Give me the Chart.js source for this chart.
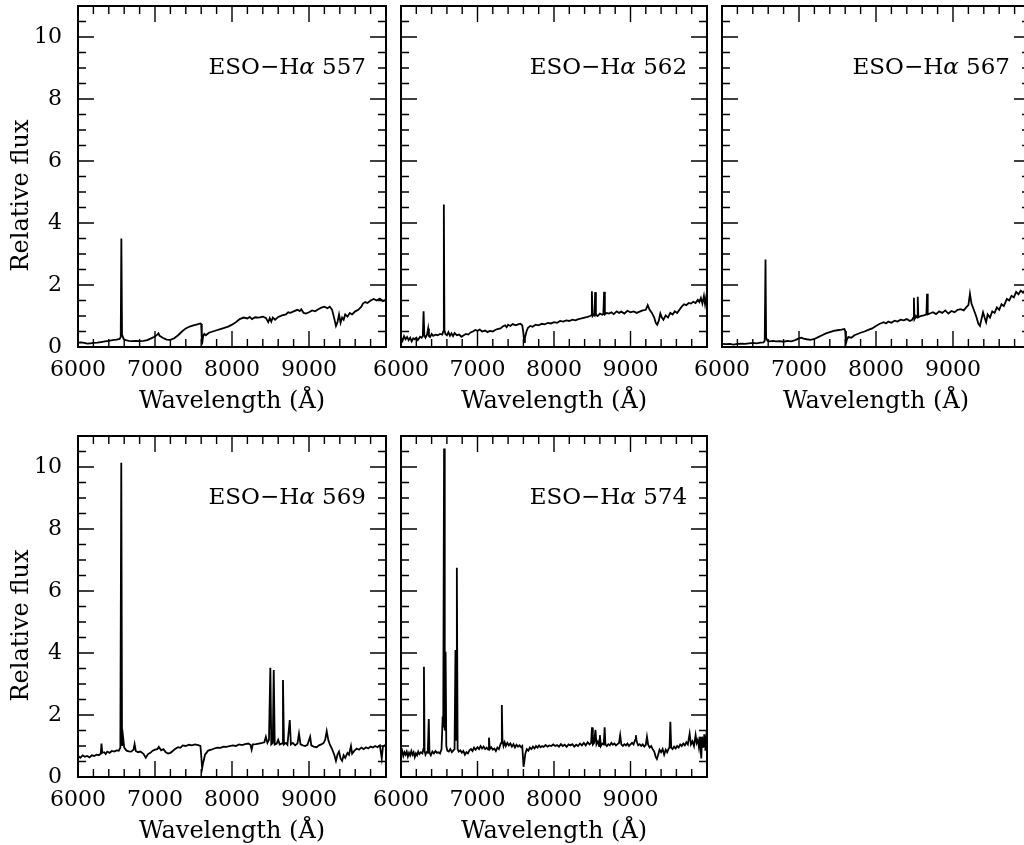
<!DOCTYPE html>
<html>
<head>
<meta charset="utf-8">
<script src="https://cdn.jsdelivr.net/npm/chart.js@4.4.0/dist/chart.umd.min.js"></script>
<style>
html, body { margin: 0; padding: 0; background: #fff; overflow: hidden; width: 1024px; height: 845px; }
canvas { position: absolute; left: 0; top: 0; }
</style>
</head>
<body>
<canvas id="c557" width="1040" height="845"></canvas>
<canvas id="c562" width="1040" height="845"></canvas>
<canvas id="c567" width="1040" height="845"></canvas>
<canvas id="c569" width="1040" height="845"></canvas>
<canvas id="c574" width="1040" height="845"></canvas>
<script>
// spectra (wavelength in Angstrom, relative flux)
const wave557 = [6000,6040,6080,6120,6160,6200,6250,6300,6350,6400,6450,6500,6540,6555,6563,6572,6590,6620,6660,6700,6750,6800,6850,6900,6950,7000,7030,7045,7060,7100,7150,7200,7250,7300,7350,7400,7450,7500,7550,7590,7600,7608,7615,7625,7640,7660,7700,7750,7800,7850,7900,7950,8000,8050,8100,8150,8200,8230,8260,8300,8350,8400,8440,8470,8490,8510,8530,8560,8600,8650,8700,8730,8760,8800,8850,8880,8900,8930,8960,9000,9040,9080,9120,9160,9200,9240,9270,9300,9330,9350,9370,9390,9410,9430,9450,9470,9500,9530,9560,9600,9640,9680,9700,9730,9760,9800,9840,9880,9920,9960,10000];
const flux557 = [0.14,0.15,0.13,0.11,0.12,0.13,0.14,0.16,0.18,0.2,0.22,0.24,0.26,0.32,3.5,0.4,0.27,0.22,0.2,0.19,0.2,0.19,0.2,0.22,0.28,0.34,0.4,0.44,0.36,0.3,0.24,0.23,0.28,0.38,0.5,0.6,0.66,0.7,0.73,0.76,0.74,0.2,0.16,0.35,0.42,0.38,0.46,0.5,0.54,0.58,0.62,0.66,0.72,0.8,0.9,0.95,0.92,0.97,0.9,0.96,0.95,0.98,0.94,0.8,0.93,0.82,0.95,0.88,0.97,1.02,1.05,1.12,1.1,1.15,1.2,1.16,1.22,1.1,1.08,1.12,1.18,1.15,1.22,1.27,1.3,1.25,1.3,1.2,0.9,0.68,0.8,1.05,0.78,0.95,0.88,1.05,0.98,1.1,1.05,1.15,1.2,1.3,1.4,1.45,1.42,1.5,1.55,1.5,1.56,1.48,1.52];

const wave562 = [6000,6020,6040,6060,6080,6100,6120,6140,6160,6180,6200,6220,6250,6270,6285,6295,6305,6320,6340,6355,6365,6380,6400,6420,6450,6480,6510,6540,6552,6560,6568,6580,6600,6620,6640,6660,6680,6700,6730,6760,6790,6820,6850,6880,6910,6940,6970,7000,7030,7060,7100,7130,7160,7200,7230,7260,7300,7330,7360,7380,7400,7430,7460,7500,7530,7560,7585,7600,7610,7620,7640,7660,7690,7720,7760,7800,7840,7880,7920,7960,8000,8040,8080,8120,8160,8200,8240,8280,8320,8360,8400,8440,8470,8485,8495,8505,8520,8530,8538,8548,8570,8600,8630,8645,8655,8665,8690,8720,8750,8780,8820,8850,8880,8920,8960,9000,9040,9080,9120,9160,9200,9225,9250,9280,9310,9330,9350,9370,9390,9410,9430,9460,9490,9520,9550,9580,9610,9640,9670,9700,9730,9760,9790,9820,9850,9880,9900,9920,9940,9960,9975,9990,10000];
const flux562 = [0.3,0.2,0.35,0.25,0.32,0.22,0.3,0.18,0.28,0.25,0.3,0.22,0.33,0.3,0.35,1.15,0.38,0.3,0.4,0.6,0.35,0.32,0.42,0.36,0.4,0.38,0.42,0.4,0.5,4.6,0.55,0.42,0.38,0.48,0.36,0.44,0.35,0.45,0.38,0.4,0.33,0.38,0.42,0.4,0.47,0.5,0.55,0.52,0.56,0.5,0.53,0.48,0.52,0.5,0.55,0.58,0.6,0.66,0.7,0.64,0.72,0.68,0.74,0.7,0.73,0.75,0.7,0.45,0.16,0.3,0.5,0.62,0.68,0.65,0.72,0.7,0.75,0.73,0.78,0.76,0.8,0.78,0.84,0.82,0.86,0.84,0.88,0.86,0.9,0.92,0.95,0.97,1.0,1.02,1.8,1.0,1.05,1.02,1.77,1.04,1.0,1.08,1.04,1.06,1.78,1.05,1.1,1.08,1.12,1.06,1.15,1.1,1.14,1.08,1.17,1.12,1.15,1.1,1.14,1.18,1.2,1.35,1.2,1.1,0.95,0.78,0.72,0.85,1.08,0.95,0.88,1.02,0.95,1.1,1.05,1.15,1.1,1.2,1.3,1.38,1.35,1.42,1.4,1.46,1.42,1.52,1.45,1.58,1.4,1.65,1.38,1.62,1.55];

const wave567 = [6000,6050,6100,6150,6200,6250,6300,6350,6400,6450,6500,6540,6555,6565,6573,6590,6620,6660,6700,6750,6800,6850,6900,6950,7000,7030,7060,7100,7150,7200,7250,7300,7350,7400,7450,7500,7550,7590,7600,7610,7620,7640,7680,7720,7760,7800,7850,7900,7950,8000,8050,8100,8130,8160,8200,8240,8280,8320,8360,8400,8440,8470,8485,8492,8500,8520,8535,8542,8550,8580,8620,8655,8663,8672,8700,8740,8780,8820,8860,8900,8940,8980,9020,9060,9100,9140,9180,9200,9220,9240,9270,9300,9330,9350,9370,9390,9410,9430,9450,9480,9510,9540,9570,9600,9630,9660,9700,9730,9760,9790,9820,9850,9880,9910,9940,9970,10000];
const flux567 = [0.1,0.09,0.1,0.08,0.1,0.11,0.1,0.12,0.13,0.12,0.14,0.15,0.2,2.82,0.3,0.2,0.18,0.2,0.18,0.19,0.17,0.2,0.18,0.22,0.28,0.3,0.27,0.25,0.23,0.26,0.32,0.38,0.44,0.48,0.52,0.54,0.56,0.58,0.52,0.12,0.22,0.32,0.3,0.38,0.42,0.46,0.5,0.55,0.6,0.68,0.75,0.8,0.76,0.82,0.78,0.85,0.82,0.88,0.86,0.9,0.84,0.88,0.95,1.59,0.9,1.0,0.95,1.62,0.96,1.0,1.02,1.05,1.72,1.05,1.08,1.12,1.06,1.15,1.1,1.18,1.08,1.16,1.12,1.2,1.22,1.18,1.3,1.35,1.72,1.4,1.2,1.0,0.75,0.68,0.9,1.12,0.95,0.8,1.05,0.95,1.15,1.1,1.28,1.2,1.38,1.32,1.55,1.5,1.65,1.6,1.78,1.7,1.82,1.75,1.85,1.78,1.88];

const wave569 = [6000,6030,6060,6090,6120,6150,6180,6210,6240,6270,6295,6305,6315,6340,6360,6380,6410,6440,6470,6500,6530,6550,6562,6572,6585,6600,6630,6660,6690,6720,6735,6750,6780,6810,6850,6880,6910,6940,6970,7000,7030,7050,7080,7110,7140,7170,7200,7230,7260,7300,7330,7360,7400,7440,7480,7520,7560,7590,7600,7612,7625,7650,7690,7730,7770,7810,7850,7890,7930,7970,8010,8050,8090,8130,8170,8210,8240,8255,8270,8310,8350,8390,8420,8440,8460,8480,8498,8510,8530,8542,8555,8580,8600,8620,8650,8662,8675,8700,8720,8750,8765,8790,8820,8850,8870,8890,8920,8950,8980,9015,9030,9060,9100,9130,9160,9190,9210,9230,9250,9270,9300,9330,9350,9370,9390,9410,9430,9450,9470,9500,9520,9545,9560,9590,9620,9650,9680,9710,9740,9770,9800,9830,9860,9890,9920,9945,9960,9980,10000];
const flux569 = [0.68,0.62,0.7,0.65,0.68,0.63,0.7,0.68,0.72,0.7,0.75,1.08,0.78,0.8,0.74,0.82,0.78,0.84,0.82,0.86,0.85,0.95,10.14,1.0,1.3,0.95,0.85,0.83,0.82,0.88,1.06,0.84,0.8,0.82,0.75,0.62,0.74,0.78,0.85,0.88,0.9,0.97,0.86,0.9,0.8,0.76,0.78,0.84,0.9,0.96,0.94,1.02,1.0,1.04,1.02,1.05,1.03,1.0,0.7,0.28,0.45,0.72,0.85,0.88,0.92,0.95,0.94,0.98,0.97,1.0,1.02,1.0,1.05,1.03,1.06,1.08,1.04,0.88,1.05,1.06,1.08,1.1,1.12,1.3,1.1,1.2,3.52,1.05,1.1,3.45,1.05,1.08,1.2,1.05,1.08,3.13,1.05,1.1,1.04,1.84,1.05,1.1,1.02,1.08,1.4,1.05,1.02,1.0,1.04,1.3,1.02,0.98,0.96,1.02,1.05,1.1,1.2,1.48,1.2,1.05,0.9,0.7,0.52,0.72,0.82,0.6,0.52,0.7,0.62,0.78,0.72,1.0,0.75,0.85,0.92,0.88,0.95,0.9,0.96,0.92,0.98,0.95,1.0,0.96,1.02,0.6,0.98,1.02,0.98];

const wave574 = [6000,6015,6030,6045,6060,6075,6090,6105,6120,6135,6150,6165,6180,6195,6210,6225,6240,6260,6280,6292,6300,6308,6320,6335,6350,6363,6372,6390,6410,6430,6450,6470,6490,6510,6530,6545,6552,6563,6572,6583,6592,6605,6625,6645,6665,6685,6700,6712,6720,6730,6740,6755,6775,6795,6815,6835,6855,6875,6895,6915,6935,6955,6975,7000,7020,7040,7060,7080,7100,7120,7140,7150,7160,7180,7200,7220,7240,7260,7280,7300,7310,7318,7326,7340,7355,7370,7390,7410,7430,7450,7470,7490,7510,7530,7550,7570,7585,7595,7602,7612,7625,7645,7665,7685,7705,7725,7745,7765,7785,7805,7825,7845,7865,7890,7915,7940,7965,7990,8015,8040,8065,8090,8115,8140,8165,8190,8215,8240,8265,8290,8315,8340,8365,8390,8415,8440,8465,8485,8497,8508,8525,8542,8555,8575,8590,8600,8612,8630,8650,8662,8672,8690,8710,8730,8750,8770,8790,8810,8830,8850,8865,8880,8900,8920,8940,8960,8980,9000,9020,9040,9060,9070,9080,9100,9120,9140,9160,9180,9200,9215,9230,9250,9270,9290,9310,9330,9345,9360,9380,9400,9420,9440,9460,9480,9500,9510,9521,9532,9550,9570,9590,9610,9630,9650,9670,9690,9710,9730,9750,9773,9790,9810,9830,9851,9865,9880,9895,9910,9925,9935,9950,9965,9980,9990,10000];
const flux574 = [0.75,0.85,0.68,0.8,0.72,0.82,0.66,0.78,0.7,0.84,0.72,0.8,0.64,0.76,0.7,0.82,0.74,0.8,0.76,0.9,3.56,0.85,0.72,0.8,0.78,1.87,0.8,0.7,0.82,0.76,0.84,0.78,0.8,0.76,0.9,1.95,1.6,10.6,1.5,4.04,1.0,0.85,0.82,0.9,0.8,0.86,0.9,4.1,1.2,6.75,0.9,0.82,0.86,0.78,0.84,0.72,0.8,0.76,0.86,0.9,0.84,0.95,0.88,0.96,0.9,1.0,0.92,0.98,0.9,0.95,0.88,1.27,0.9,0.96,0.88,0.92,0.84,0.95,0.9,1.05,1.1,2.32,1.2,1.0,1.12,1.0,1.1,1.02,1.08,0.98,1.06,0.95,1.04,0.98,1.02,0.96,1.0,0.6,0.33,0.5,0.75,0.9,0.85,0.95,0.9,0.98,0.92,1.0,0.95,1.02,0.96,1.0,0.97,1.03,0.98,1.02,1.0,1.05,1.0,1.03,0.98,1.06,1.0,1.04,0.97,1.05,1.02,1.06,0.98,1.04,1.0,1.08,1.02,1.1,1.02,1.12,1.05,1.1,1.6,1.05,1.1,1.52,1.05,1.15,1.0,1.35,1.0,1.08,1.05,1.6,1.05,1.0,1.06,1.02,1.1,1.04,1.08,1.02,1.06,1.1,1.35,1.05,1.0,1.06,1.02,1.08,1.0,1.05,1.1,1.05,1.2,1.35,1.15,1.02,1.06,1.0,1.05,0.98,1.04,1.3,1.05,0.95,1.0,0.9,0.82,0.65,0.58,0.7,0.88,0.8,0.9,0.72,0.88,0.8,0.92,0.95,1.78,0.95,0.9,0.98,0.92,1.0,0.95,1.05,1.0,1.08,1.02,1.12,1.05,1.4,1.05,1.15,1.0,1.35,1.1,1.2,0.95,1.3,0.6,1.3,0.95,1.38,0.85,1.25,1.1];

const xTickLabels = [6000, 7000, 8000, 9000];
const yTickLabels = [0, 2, 4, 6, 8, 10];

const FONT = "'DejaVu Serif', serif";
const W = 1040, H = 845;
const X_AXIS_H = 70;

// box frame with inward ticks on all four sides (PGPLOT style)
const frameTicks = {
    id: 'frameTicks',
    afterDraw(chart, args, opts) {
        const ctx = chart.ctx;
        const a = chart.chartArea;
        const x = chart.scales.x, y = chart.scales.y;
        ctx.save();
        ctx.strokeStyle = '#000';
        ctx.lineWidth = 1.4;
        ctx.beginPath();
        for (let v = 6000; v <= 10000; v += 200) {
            const px = x.getPixelForValue(v);
            const len = v % 1000 === 0 ? 16 : 8;
            ctx.moveTo(px, a.bottom); ctx.lineTo(px, a.bottom - len);
            ctx.moveTo(px, a.top); ctx.lineTo(px, a.top + len);
        }
        for (let v = 0; v <= 11; v += 0.5) {
            const py = y.getPixelForValue(v);
            const len = v % 2 === 0 ? 16 : 8;
            ctx.moveTo(a.left, py); ctx.lineTo(a.left + len, py);
            ctx.moveTo(a.right, py); ctx.lineTo(a.right - len, py);
        }
        ctx.stroke();
        ctx.lineWidth = 2;
        ctx.strokeRect(a.left, a.top, a.right - a.left, a.bottom - a.top);

        // object name, alpha in italics
        const parts = [
            { t: 'ESO\u2212H', f: '23px ' + FONT },
            { t: '\u03b1', f: 'italic 23px ' + FONT },
            { t: ' ' + opts.name, f: '23px ' + FONT }
        ];
        let total = 0;
        parts.forEach(p => { ctx.font = p.f; p.w = ctx.measureText(p.t).width; total += p.w; });
        let tx = x.getPixelForValue(9740) - total;
        const ty = y.getPixelForValue(9);
        ctx.fillStyle = '#000';
        ctx.textBaseline = 'middle';
        ctx.textAlign = 'left';
        parts.forEach(p => { ctx.font = p.f; ctx.fillText(p.t, tx, ty); tx += p.w; });
        ctx.restore();
    }
};

const panels = [
    { id: 'c557', name: '557', wave: wave557, flux: flux557, L: 78, T: 6, R: 386, B: 347, yAxis: true },
    { id: 'c562', name: '562', wave: wave562, flux: flux562, L: 401, T: 6, R: 707, B: 347, yAxis: false },
    { id: 'c567', name: '567', wave: wave567, flux: flux567, L: 722, T: 6, R: 1030, B: 347, yAxis: false },
    { id: 'c569', name: '569', wave: wave569, flux: flux569, L: 78, T: 436, R: 386, B: 777, yAxis: true },
    { id: 'c574', name: '574', wave: wave574, flux: flux574, L: 401, T: 436, R: 707, B: 777, yAxis: false }
];

function makePanel(p) {
    const points = p.wave.map((w, i) => ({ x: w, y: p.flux[i] }));
    new Chart(document.getElementById(p.id), {
        type: 'line',
        data: {
            datasets: [{
                data: points,
                borderColor: '#000',
                borderWidth: 1.8,
                pointRadius: 0,
                tension: 0,
                fill: false
            }]
        },
        options: {
            responsive: false,
            animation: false,
            layout: {
                padding: {
                    left: p.yAxis ? 0 : p.L,
                    top: p.T,
                    right: W - p.R,
                    bottom: H - p.B - X_AXIS_H
                }
            },
            plugins: {
                legend: { display: false },
                tooltip: { enabled: false },
                frameTicks: { name: p.name }
            },
            scales: {
                x: {
                    type: 'linear',
                    min: 6000,
                    max: 10000,
                    grid: { display: false, drawTicks: false },
                    border: { display: false },
                    afterBuildTicks: s => { s.ticks = xTickLabels.map(v => ({ value: v })); },
                    afterFit: s => { s.height = X_AXIS_H; s.paddingLeft = 0; s.paddingRight = 0; },
                    ticks: {
                        font: { family: FONT, size: 22 },
                        color: '#000',
                        padding: 10,
                        maxRotation: 0,
                        autoSkip: false,
                        callback: v => String(v)
                    },
                    title: {
                        display: true,
                        text: 'Wavelength (\u00c5)',
                        font: { family: FONT, size: 24 },
                        color: '#000',
                        padding: { top: 0, bottom: 1 }
                    }
                },
                y: {
                    type: 'linear',
                    min: 0,
                    max: 11,
                    display: p.yAxis,
                    grid: { display: false, drawTicks: false },
                    border: { display: false },
                    afterBuildTicks: s => { s.ticks = yTickLabels.map(v => ({ value: v })); },
                    afterFit: s => { s.width = p.yAxis ? p.L : 0; s.paddingTop = 0; s.paddingBottom = 0; },
                    ticks: {
                        font: { family: FONT, size: 22 },
                        color: '#000',
                        padding: 16,
                        callback: v => String(v)
                    },
                    title: {
                        display: true,
                        text: 'Relative flux     ',
                        font: { family: FONT, size: 24 },
                        color: '#000',
                        padding: { top: 7, bottom: 0 }
                    }
                }
            }
        },
        plugins: [frameTicks]
    });
}

panels.forEach(makePanel);
</script>
</body>
</html>
